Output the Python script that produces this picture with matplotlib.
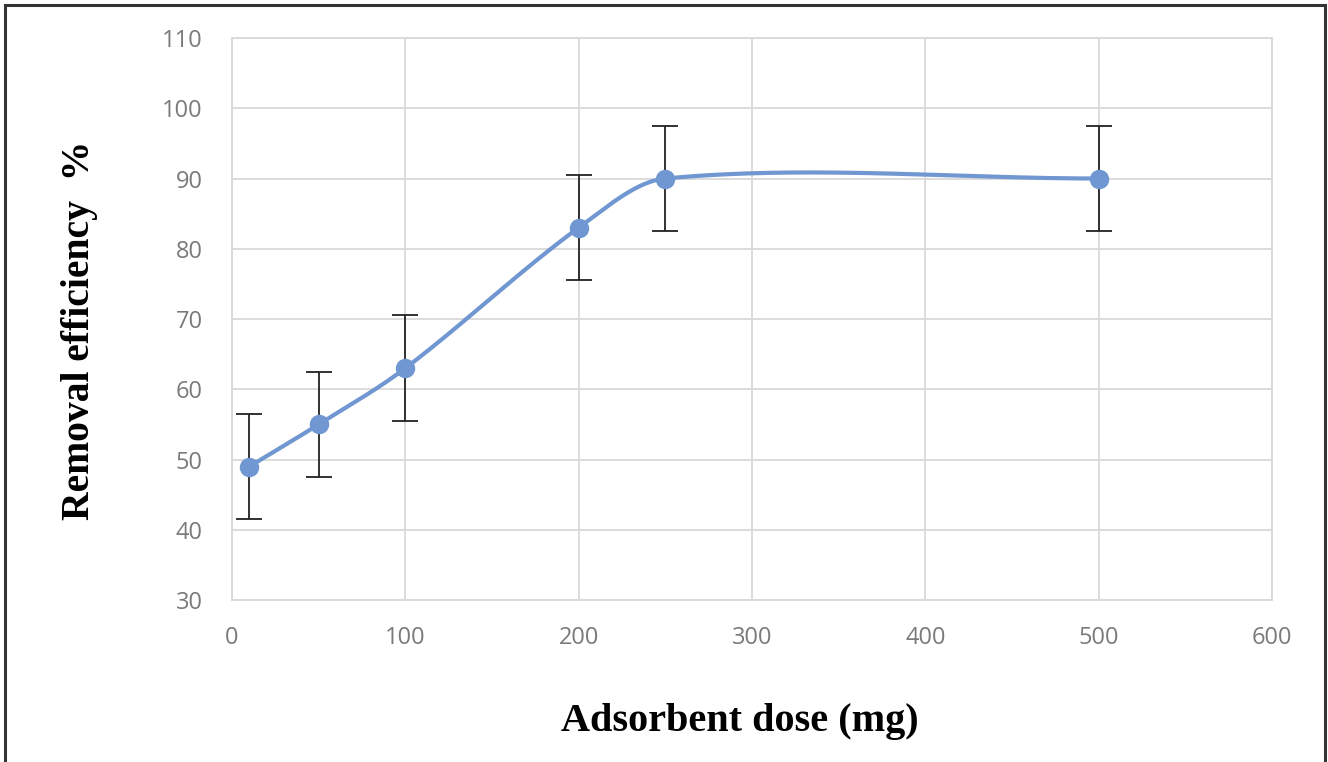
import matplotlib.pyplot as plt
import matplotlib.patches as patches
import numpy as np

# adsorbent dose vs removal efficiency
dose = [10, 50, 100, 200, 250, 500]
removal = [49, 55, 63, 83, 90, 90]
err = [7.5, 7.5, 7.5, 7.5, 7.5, 7.5]

xticks = [0, 100, 200, 300, 400, 500, 600]
yticks = [30, 40, 50, 60, 70, 80, 90, 100, 110]


def smooth_line(x, y, n=60):
    """
    smoothed line through the points (cubic hermite, centred slopes)
    """
    x = np.asarray(x, float)
    y = np.asarray(y, float)
    m = np.zeros_like(y)
    m[1:-1] = (y[2:] - y[:-2]) / (x[2:] - x[:-2])
    m[0] = (y[1] - y[0]) / (x[1] - x[0])
    m[-1] = (y[-1] - y[-2]) / (x[-1] - x[-2])
    xs, ys = [], []
    for i in range(len(x) - 1):
        h = x[i + 1] - x[i]
        t = np.linspace(0, 1, n)
        h00 = 2 * t**3 - 3 * t**2 + 1
        h10 = t**3 - 2 * t**2 + t
        h01 = -2 * t**3 + 3 * t**2
        h11 = t**3 - t**2
        seg_y = h00 * y[i] + h10 * h * m[i] + h01 * y[i + 1] + h11 * h * m[i + 1]
        seg_x = x[i] + t * h
        if i > 0:
            seg_x, seg_y = seg_x[1:], seg_y[1:]
        xs.append(seg_x)
        ys.append(seg_y)
    return np.concatenate(xs), np.concatenate(ys)


fig = plt.figure(figsize=(13.28, 7.62), dpi=100)
ax = fig.add_axes([0.1747, 0.2126, 0.7831, 0.7375])

blue = "#7097D1"
sx, sy = smooth_line(dose, removal)
ax.plot(sx, sy, color=blue, lw=3, zorder=3)
ax.errorbar(dose, removal, yerr=err, fmt="none", ecolor="#222222", elinewidth=1.3,
            capsize=9.5, capthick=1.3, zorder=2)
ax.plot(dose, removal, "o", color=blue, ms=13, zorder=4)

ax.set_xlim(0, 600)
ax.set_ylim(30, 110)
ax.set_xticks(xticks)
ax.set_yticks(yticks)
ax.grid(True, color="#d9d9d9", lw=1.3)
ax.set_axisbelow(True)
for s in ax.spines.values():
    s.set_color("#d9d9d9")
    s.set_linewidth(1.3)
ax.tick_params(length=0, labelsize=17, labelcolor="#7a7a7a")
ax.tick_params(axis="x", pad=19)
ax.tick_params(axis="y", pad=21)
for lab in ax.get_xticklabels() + ax.get_yticklabels():
    lab.set_fontfamily("Open Sans")

fig.text(0.557, 0.0525, "Adsorbent dose (mg)", ha="center", va="center",
         fontsize=29, fontweight="bold", family="Liberation Serif")
fig.text(0.060, 0.567, "Removal efficiency  %", ha="center", va="center", rotation=90,
         fontsize=28.5, fontweight="bold", family="Liberation Serif")

# outer frame
fig.patches.append(patches.Rectangle((5 / 1328, -0.05), 1320 / 1328, 1.05 - 5 / 762,
                                     transform=fig.transFigure, fill=False,
                                     ec="#333333", lw=2.2))

fig.savefig("out.png", dpi=100)
